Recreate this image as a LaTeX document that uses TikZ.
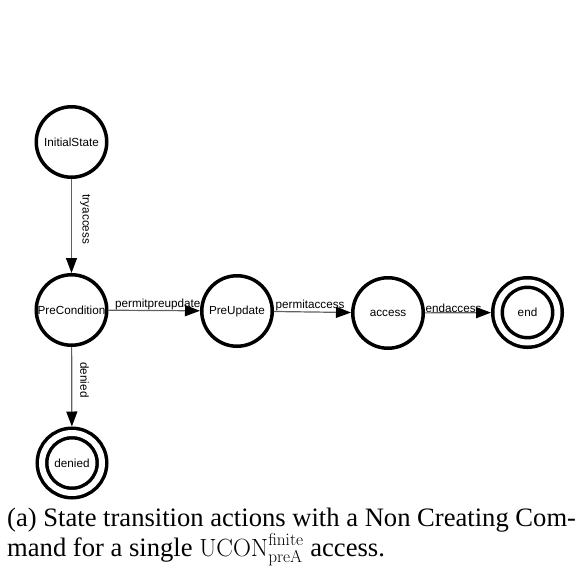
\documentclass[tikz,border=0pt]{standalone}
\usepackage[no-math]{fontspec}
\setmainfont{Liberation Serif}
\newfontfamily\statefont{Liberation Sans}
\usetikzlibrary{arrows.meta}

\tikzset{
  state/.style={circle, draw=black, line width=3.5pt, minimum size=70.5pt,
    inner sep=0pt, font=\statefont\fontsize{11.7}{13}\selectfont},
  final/.style={circle, draw=black, line width=3.5pt, double=white,
    double distance=6pt, minimum size=60pt, inner sep=0pt, outer sep=6.5pt,
    font=\statefont\fontsize{11.7}{13}\selectfont},
  trans/.style={draw=black!62, line width=1.2pt,
    -{Triangle[length=15pt,width=11pt,color=black]}},
  lbl/.style={font=\statefont\fontsize{11.7}{13}\selectfont, inner sep=0pt},
}
\newcommand{\statetext}[1]{\makebox[0pt]{#1}}

\begin{document}
\begin{tikzpicture}[x=1pt, y=-1pt]
  \useasboundingbox (0,0) rectangle (586,581);

  % states
  \node[state] (init) at (71.5,142) {\statetext{InitialState}};
  \node[state] (pre)  at (71.5,310) {\statetext{PreCondition}};
  \node[state] (pup)  at (237,311)  {\statetext{PreUpdate}};
  \node[state] (acc)  at (388,313)  {\statetext{access}};
  \node[final] (fin)  at (527.5,312.5) {\statetext{end}};
  \node[final] (den)  at (72,463)   {\statetext{denied}};

  % transitions
  \draw[trans] (init) -- node[lbl, pos=0.43, sloped, above, inner ysep=8pt] {tryaccess} (pre);
  \draw[trans] (pre) -- node[lbl, pos=0.415, sloped, above, inner ysep=8pt] {denied} (den);
  \draw[trans] (pre) -- node[lbl, pos=0, anchor=south west, xshift=6pt, yshift=-0.5pt] {permitpreupdate} (pup);
  \draw[trans] (pup) -- node[lbl, pos=0, anchor=south west, xshift=1pt, yshift=-0.5pt] {permitaccess} (acc);
  \draw[trans] (acc) -- node[lbl, pos=0, anchor=south west, xshift=0pt, yshift=-0.5pt] {endaccess} (fin);

  % caption (base anchor sits on the last line)
  \node[anchor=base west, inner sep=0pt, align=left,
        font=\fontsize{26.6}{30}\selectfont] (caption) at (7,556)
    {(a) State transition actions with a Non Creating Com-\\
     mand for a single $\mathrm{UCON}^{\mathrm{finite}}_{\mathrm{preA}}$ access.};
\end{tikzpicture}
\end{document}
